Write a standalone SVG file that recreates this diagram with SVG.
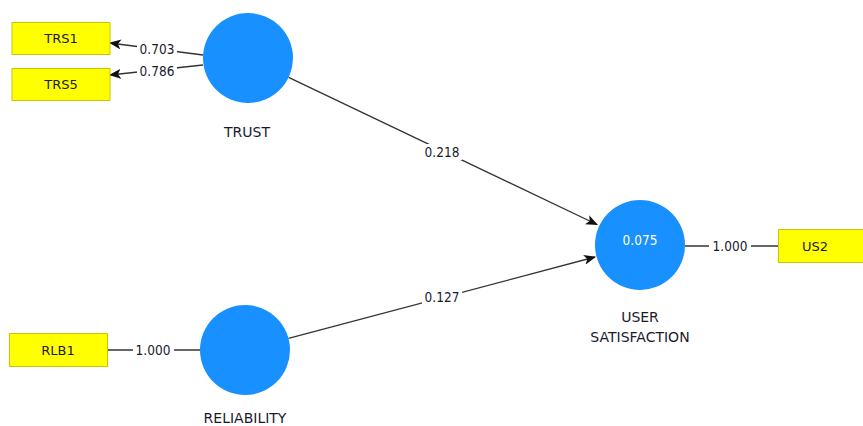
<svg xmlns="http://www.w3.org/2000/svg" width="863" height="426" viewBox="0 0 863 426">
  <style>
    text { font-family: "DejaVu Sans", "Liberation Sans", sans-serif; font-size: 14px; fill: #1a1a2e; }
    .num { font-family: "DejaVu Sans Condensed", "DejaVu Sans", sans-serif; font-stretch: condensed; font-size: 13.5px; }
    .ind text { font-size: 13px; }
    .ind rect { fill: #ffff00; stroke: #c8c800; stroke-width: 1; }
    .lat circle { fill: #1890ff; }
    .edge { stroke: #333333; stroke-width: 1.3; fill: none; }
    .lbl { fill: #ffffff; }
  </style>
  <defs>
    <marker id="arrow" viewBox="0 0 12 10" refX="11" refY="5" markerWidth="12" markerHeight="10" markerUnits="userSpaceOnUse" orient="auto">
      <path d="M0,0 L12,5 L0,10 L3,5 Z" fill="#111111"/>
    </marker>
  </defs>

  <!-- connectors -->
  <g id="connectors">
    <line class="edge" x1="203" y1="55" x2="110" y2="43" marker-end="url(#arrow)"/>
    <line class="edge" x1="203" y1="65" x2="110" y2="75" marker-end="url(#arrow)"/>
    <line class="edge" x1="288.6" y1="77.4" x2="597" y2="224.5" marker-end="url(#arrow)"/>
    <line class="edge" x1="288.5" y1="338.4" x2="595" y2="257" marker-end="url(#arrow)"/>
    <line class="edge" x1="107" y1="350" x2="200" y2="350"/>
    <line class="edge" x1="685" y1="246" x2="778" y2="246"/>

    <!-- path coefficient / loading labels -->
    <rect class="lbl" x="137" y="42" width="40" height="14"/>
    <text class="num" x="157" y="54" text-anchor="middle">0.703</text>
    <rect class="lbl" x="137" y="64" width="40" height="14"/>
    <text class="num" x="157" y="76" text-anchor="middle">0.786</text>
    <rect class="lbl" x="422" y="144" width="40" height="16"/>
    <text class="num" x="442" y="157" text-anchor="middle">0.218</text>
    <rect class="lbl" x="422" y="289" width="40" height="16"/>
    <text class="num" x="442" y="302" text-anchor="middle">0.127</text>
    <rect class="lbl" x="133" y="342" width="41" height="16"/>
    <text class="num" x="153" y="355" text-anchor="middle">1.000</text>
    <rect class="lbl" x="709" y="238" width="42" height="16"/>
    <text class="num" x="730" y="251" text-anchor="middle">1.000</text>
  </g>

  <!-- indicators -->
  <g id="TRS1" class="ind">
    <rect x="12" y="22.5" width="98" height="32"/>
    <text x="61" y="43" text-anchor="middle">TRS1</text>
  </g>
  <g id="TRS5" class="ind">
    <rect x="12" y="68.5" width="98" height="32"/>
    <text x="61" y="89" text-anchor="middle">TRS5</text>
  </g>
  <g id="RLB1" class="ind">
    <rect x="9.5" y="333.5" width="98" height="33"/>
    <text x="58" y="355" text-anchor="middle">RLB1</text>
  </g>
  <g id="US2" class="ind">
    <rect x="778.5" y="229.5" width="98" height="33"/>
    <text x="815" y="251" text-anchor="middle">US2</text>
  </g>

  <!-- latent constructs -->
  <g id="TRUST" class="lat">
    <circle cx="248" cy="58" r="45"/>
    <text x="247" y="137" text-anchor="middle">TRUST</text>
  </g>
  <g id="RELIABILITY" class="lat">
    <circle cx="245" cy="350" r="45"/>
    <text x="245" y="423" text-anchor="middle">RELIABILITY</text>
  </g>
  <g id="USER_SATISFACTION" class="lat">
    <circle cx="640" cy="245" r="45"/>
    <text class="num" x="640" y="245" text-anchor="middle" style="fill:#ffffff">0.075</text>
    <text x="640" y="322" text-anchor="middle">USER</text>
    <text x="640" y="342" text-anchor="middle">SATISFACTION</text>
  </g>
</svg>
